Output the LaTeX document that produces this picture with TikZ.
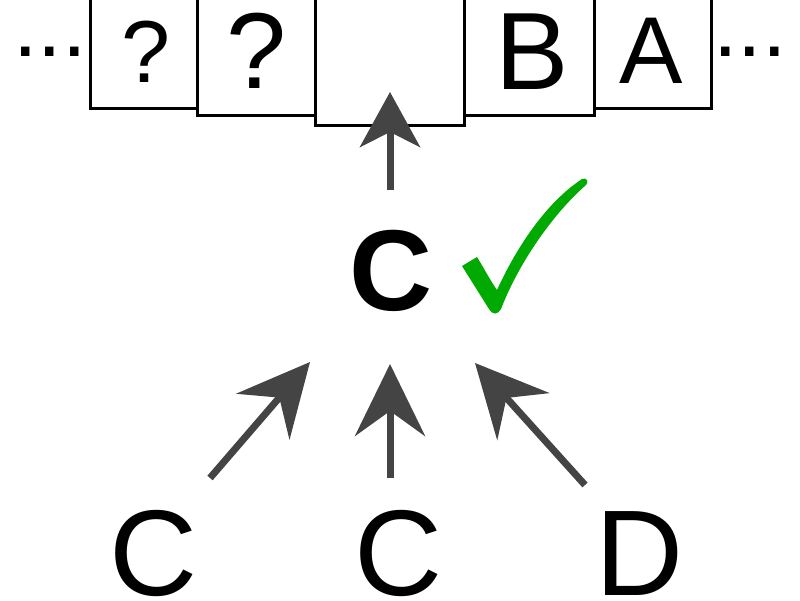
\documentclass[tikz,border=0pt]{standalone}
\usepackage{fontspec}
\setmainfont{Liberation Sans}
\usetikzlibrary{arrows.meta}
\definecolor{arrgray}{HTML}{444444}
\definecolor{checkgreen}{HTML}{00AA00}
\begin{document}
\begin{tikzpicture}[x=1pt,y=-1pt,
 cell/.style={draw=black,line width=3pt,inner sep=0pt,anchor=south west},
 glyph/.style={anchor=base,inner sep=0pt},
 dots/.style={anchor=base west,inner sep=0pt,font=\fontsize{88}{88}\selectfont},
 arr/.style={draw=arrgray,line width=7pt,-{Stealth[length=72pt,width=70pt,inset=25pt]}},
 arrtop/.style={draw=arrgray,line width=7pt,-{Stealth[length=55pt,width=60pt,inset=15pt]}},
]
\useasboundingbox (0,0) rectangle (800,600);
% tape cells
\node[cell,minimum width=107pt,minimum height=130pt] (b1) at (89,110) {};
\node[cell,minimum width=118pt,minimum height=137pt] (b2) at (196,117) {};
\node[cell,minimum width=149pt,minimum height=147pt] (b3) at (314,127) {};
\node[cell,minimum width=130pt,minimum height=137pt] (b4) at (463,117) {};
\node[cell,minimum width=117pt,minimum height=130pt] (b5) at (593,110) {};
% cell contents
\node[glyph,font=\fontsize{88}{88}\selectfont] (q1) at (146,82) {?};
\node[glyph,font=\fontsize{108}{108}\selectfont] (q2) at (257,88) {?};
\node[glyph,font=\fontsize{110}{110}\selectfont] (lb) at (532,89) {B};
\node[glyph,font=\fontsize{95}{95}\selectfont] (la) at (651,83) {A};
\node[dots] (dl) at (13,56) {...};
\node[dots] (dr) at (713,56) {...};
% middle
\node[glyph,font=\bfseries\fontsize{115}{115}\selectfont] (cm) at (391,310) {C};
\fill[checkgreen] (462,266) -- (477,257) .. controls (485,270) and (490,280) .. (497,290)
  .. controls (520,240) and (550,200) .. (582,179) .. controls (587,177) and (589,182) .. (586,185)
  .. controls (555,212) and (520,260) .. (501,309) .. controls (498,315) and (492,315) .. (489,309) -- cycle;
% bottom
\node[glyph,font=\fontsize{122}{122}\selectfont] (c1) at (154,595) {C};
\node[glyph,font=\fontsize{122}{122}\selectfont] (c2) at (399,595) {C};
\node[glyph,font=\fontsize{122}{122}\selectfont] (d1) at (640,595) {D};
% arrows
\coordinate (ts) at (390,190);
\coordinate (tt) at (390,92);
\coordinate (ls) at (210,478);
\coordinate (lt) at (310,362);
\coordinate (ms) at (390,478);
\coordinate (mt) at (390,364);
\coordinate (rs) at (585,485);
\coordinate (rt) at (475,363);
\draw[arrtop] (ts) -- (tt);
\draw[arr] (ls) -- (lt);
\draw[arr] (ms) -- (mt);
\draw[arr] (rs) -- (rt);
\end{tikzpicture}
\end{document}
